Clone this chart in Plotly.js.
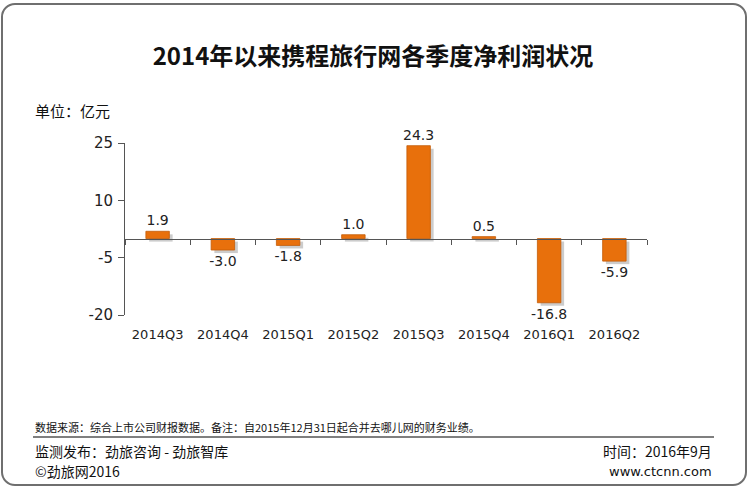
<!DOCTYPE html>
<html>
<head>
<meta charset="utf-8">
<script src="https://cdn.plot.ly/plotly-3.0.1.min.js"></script>
<style>
  html, body { margin: 0; padding: 0; background: #fff; }
  #wrap { position: relative; width: 750px; height: 489px; overflow: hidden; }
  #chart { position: absolute; left: 0; top: 0; width: 750px; height: 489px; }
  #frame { position: absolute; left: 1px; top: 3px; width: 742px; height: 479px;
           border: 2px solid #6f6f6f; border-radius: 14px; pointer-events: none; }
</style>
</head>
<body>
<div id="wrap">
  <div id="chart"></div>
  <div id="frame"></div>
</div>
<script>
// ---- data ----
const quarters = ["2014Q3", "2014Q4", "2015Q1", "2015Q2", "2015Q3", "2015Q4", "2016Q1", "2016Q2"];
const netProfit = [1.9, -3.0, -1.8, 1.0, 24.3, 0.5, -16.8, -5.9];
const yTicks = [25, 10, -5, -20];
const yRange = [-20, 25];

const titleText = "2014年以来携程旅行网各季度净利润状况";
const unitText = "单位：亿元";
const noteText = "数据来源：综合上市公司财报数据。备注：自2015年12月31日起合并去哪儿网的财务业绩。";
const publisherText = "监测发布：劲旅咨询 - 劲旅智库";
const dateText = "时间：2016年9月";
const copyrightText = "©劲旅网2016";
const siteText = "www.ctcnn.com";

// ---- layout helpers ----
const W = 750, H = 489;
const M = { l: 125, r: 103, t: 143, b: 174 };
const pw = W - M.l - M.r, ph = H - M.t - M.b;
const px = x => (x - M.l) / pw;
const py = y => (H - M.b - y) / ph;

const CJK = '"Noto Sans CJK SC", "Noto Sans", sans-serif';
const NUM = '"DejaVu Sans", Verdana, sans-serif';
const BAR_W = 0.36;
const SHADOW_DX = 0.05;
const SHADOW_DY = 0.8;

const shadow = {
  type: 'bar', x: quarters, y: netProfit,
  base: netProfit.map(() => -SHADOW_DY),
  xaxis: 'x', yaxis: 'y',
  width: BAR_W, offset: -BAR_W / 2 + SHADOW_DX,
  marker: { color: 'rgba(0,0,0,0.2)', line: { width: 0 } },
  hoverinfo: 'skip', showlegend: false
};

const bars = {
  type: 'bar', x: quarters, y: netProfit,
  xaxis: 'x2', yaxis: 'y',
  width: BAR_W,
  marker: { color: '#E8700C', line: { color: '#C35C08', width: 0.8 } },
  texttemplate: '%{y:.1f}', textposition: 'outside', constraintext: 'none',
  textfont: { family: NUM, size: 14, color: '#222' },
  cliponaxis: false, showlegend: false
};

const zeroPos = (0 - yRange[0]) / (yRange[1] - yRange[0]);

const ann = (text, x, y, size, xanchor, extra) => Object.assign({
  text: text, xref: 'paper', yref: 'paper', x: px(x), y: py(y),
  xanchor: xanchor, yanchor: 'middle', showarrow: false,
  font: { family: CJK, size: size, color: '#111' }
}, extra || {});

const layout = {
  width: W, height: H,
  margin: M,
  paper_bgcolor: '#fff', plot_bgcolor: '#fff',
  showlegend: false,
  barmode: 'overlay',
  title: {
    text: '<b>' + titleText + '</b>',
    xref: 'container', yref: 'container',
    x: 373 / W, y: 1 - 57 / H, xanchor: 'center', yanchor: 'middle',
    font: { family: CJK, size: 24, color: '#111' }
  },
  xaxis: {
    type: 'category', range: [-0.5, quarters.length - 0.5],
    showline: false, ticks: '', showgrid: false, zeroline: false,
    tickfont: { family: NUM, size: 13, color: '#222' },
    ticklabelstandoff: 10, fixedrange: true
  },
  xaxis2: {
    type: 'category', overlaying: 'x', anchor: 'free', position: zeroPos,
    range: [-0.5, quarters.length - 0.5],
    showline: true, linecolor: '#555', linewidth: 1,
    ticks: 'outside', tickson: 'boundaries', ticklen: 5, tickcolor: '#555',
    showticklabels: false, showgrid: false, zeroline: false, fixedrange: true
  },
  yaxis: {
    range: yRange, tickvals: yTicks, ticktext: yTicks.map(String),
    showline: true, linecolor: '#555', linewidth: 1,
    ticks: 'outside', ticklen: 6, tickcolor: '#555',
    showgrid: false, zeroline: false,
    tickfont: { family: NUM, size: 15, color: '#222' },
    ticklabelstandoff: 2, fixedrange: true
  },
  annotations: [
    ann(unitText, 33, 110, 15, 'left'),
    ann(noteText, 33, 427, 11, 'left'),
    ann(publisherText, 33, 451, 14, 'left'),
    ann(dateText, 714, 451, 14, 'right'),
    ann(copyrightText, 33, 471, 14, 'left'),
    ann(siteText, 714, 471, 14, 'right', { font: { family: NUM, size: 13, color: '#111' } })
  ],
  shapes: [
    { type: 'line', xref: 'paper', yref: 'paper', x0: px(33), x1: px(714), y0: py(437), y1: py(437),
      line: { color: '#000', width: 1.2 } }
  ]
};

Plotly.newPlot('chart', [shadow, bars], layout, { displayModeBar: false, staticPlot: true });
</script>
</body>
</html>
